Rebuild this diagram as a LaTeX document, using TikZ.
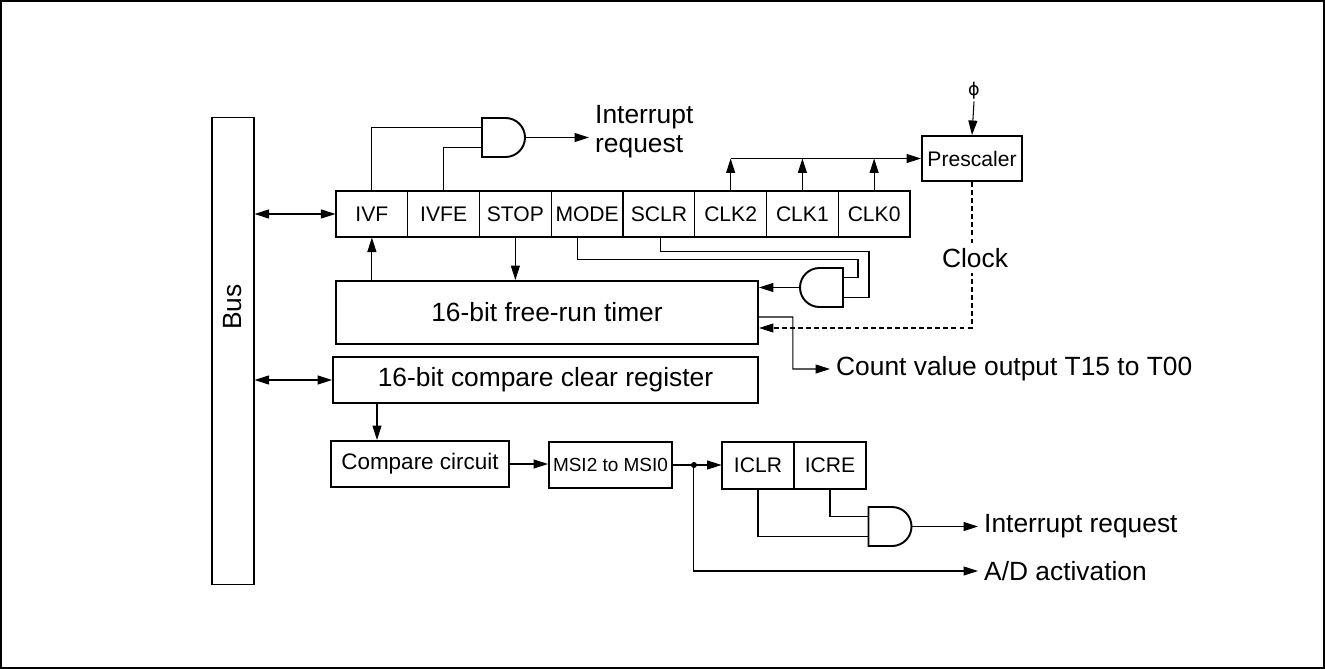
\documentclass[tikz,border=0pt]{standalone}
\usepackage{fontspec}
\setmainfont{Liberation Sans}
\newfontfamily\symfont{DejaVu Sans}
\usetikzlibrary{arrows.meta,calc}

\tikzset{
  >={Triangle[length=0.29cm,width=0.18cm]},
  wire/.style={line width=0.6pt},
  blk/.style={draw, line width=1.1pt, inner sep=1pt, minimum height=0.92cm, font=\fontsize{15}{18}\selectfont},
  cell/.style={draw, line width=0.6pt, minimum width=1.435cm, minimum height=0.92cm, inner sep=0pt, font=\fontsize{12}{14}\selectfont},
  lbl/.style={anchor=west, align=left, font=\fontsize{15}{16.5}\selectfont},
  andgate/.pic={
    \draw[line width=1.1pt] (-21.5,-19.5) -- (2,-19.5) arc[start angle=-90,end angle=90,radius=19.5] -- (-21.5,19.5) -- cycle;
    \coordinate (-out) at (21.5,0);
    \coordinate (-in1) at (-21.5,-10);
    \coordinate (-in2) at (-21.5,10);
  }
}

\begin{document}
\begin{tikzpicture}[x=0.02cm,y=-0.02cm]
    \useasboundingbox (0,0) rectangle (1325,669);
    \draw[line width=1.2pt] (1,1) rectangle (1324,668);

    % bus
    \node[draw, wire, minimum width=0.84cm, minimum height=9.36cm] (bus) at (233,351) {};
    \node[rotate=90, font=\fontsize{15}{18}\selectfont] (bustxt) at (233,307) {Bus};

    % control register
    \foreach \name [count=\i] in {IVF,IVFE,STOP,MODE,SCLR,CLK2,CLK1,CLK0}
        \node[cell] (r\i) at ({336+(\i-0.5)*71.75},214) {\name};
    \draw[line width=1.1pt] (r1.north west) rectangle (r8.south east);

    \node[blk, minimum width=8.44cm, minimum height=1.26cm] (timer) at (547,312.5) {16-bit free-run timer};
    \node[blk, minimum width=8.5cm] (creg) at (545.5,380) {16-bit compare clear register};
    \node[blk, minimum width=3.56cm, font=\fontsize{12.8}{14}\selectfont] (cmp) at (420,464) {Compare circuit};
    \node[blk, minimum width=2.46cm, font=\fontsize{10.8}{12}\selectfont] (msi) at (610.5,465) {MSI2 to MSI0};
    \node[blk, minimum width=2cm, minimum height=0.9cm, font=\fontsize{12}{14}\selectfont] (pre) at (972,158.5) {Prescaler};
    \node[font=\fontsize{10}{11}\symfont, inner sep=1pt] (phi) at (974,91) {ϕ};

    \node[cell] (iclr) at (758,465.5) {ICLR};
    \node[cell] (icre) at (830,465.5) {ICRE};
    \draw[line width=1.1pt] (iclr.north west) rectangle (icre.south east);

    \pic (g1) at (503.5,137.5) {andgate};
    \pic[rotate=180] (g2) at (821.5,287.5) {andgate};
    \pic (g3) at (890,526.5) {andgate};

    \node[lbl] (irq1) at (589,132) {Interrupt\\request};
    \node[lbl] (cnt) at (830,369) {Count value output T15 to T00};
    \node[lbl] (irq2) at (978,526.5) {Interrupt request};
    \node[lbl] (ad) at (978,571) {A/D activation};

    % bus transfers
    \draw[wire,<->] (bus.east |- r1.west) -- (r1.west);
    \draw[wire,<->] (bus.east |- creg.west) -- (creg.west);

    % interrupt flag and enable
    \draw[wire] (r1.north) |- (g1-in1);
    \draw[wire] (r2.north) |- (g1-in2);
    \draw[wire,->] (g1-out) -- (g1-out -| irq1.west);
    \draw[wire,->] (r1.south |- timer.north) -- (r1.south);
    \draw[wire,->] (r3.south) -- (r3.south |- timer.north);

    % clock select
    \foreach \i in {6,7,8}
        \draw[wire,->] (r\i.north) -- (r\i.north |- pre.west);
    \draw[wire,->] (r6.north |- pre.west) -- (pre.west);
    \draw[wire,->] (phi.south) -- (pre.north);
    \draw[wire,->,dash pattern=on 2.8pt off 1.8pt] (pre.south) |- ($(timer.east)+(0,15.5)$);
    \node[fill=white, inner sep=3pt, font=\fontsize{15}{18}\selectfont] (clk) at (975,258) {Clock};

    % clear logic
    \draw[wire] ($(r4.south)+(-10,0)$) -- ++(0,22) -| ($(g2-in2)+(15,0)$) -- (g2-in2);
    \draw[wire] ($(r5.south)+(2,0)$) -- ++(0,14) -| ($(g2-in1)+(26,0)$) -- (g2-in1);
    \draw[wire,->] (g2-out) -- (g2-out -| timer.east);

    % count output
    \draw[wire,->] ($(timer.east)+(0,4.5)$) -| ($(timer.east)+(34,56.5)$) -- (cnt.west);

    % compare match
    \coordinate (ctap) at ($(cmp.north)+(-43,0)$);
    \draw[wire,->] (ctap |- creg.south) -- (ctap);
    \draw[wire,->] (cmp.east) -- (cmp.east -| msi.west);
    \draw[wire,->] (msi.east) -- (msi.east -| iclr.west);
    \coordinate (jn) at ($(msi.east)+(21,0)$);
    \fill (jn) circle (3);
    \draw[wire,->] (jn) |- (ad.west);
    \draw[wire] (iclr.south) |- (g3-in2);
    \draw[wire] (icre.south) |- (g3-in1);
    \draw[wire,->] (g3-out) -- (irq2.west);
\end{tikzpicture}
\end{document}
